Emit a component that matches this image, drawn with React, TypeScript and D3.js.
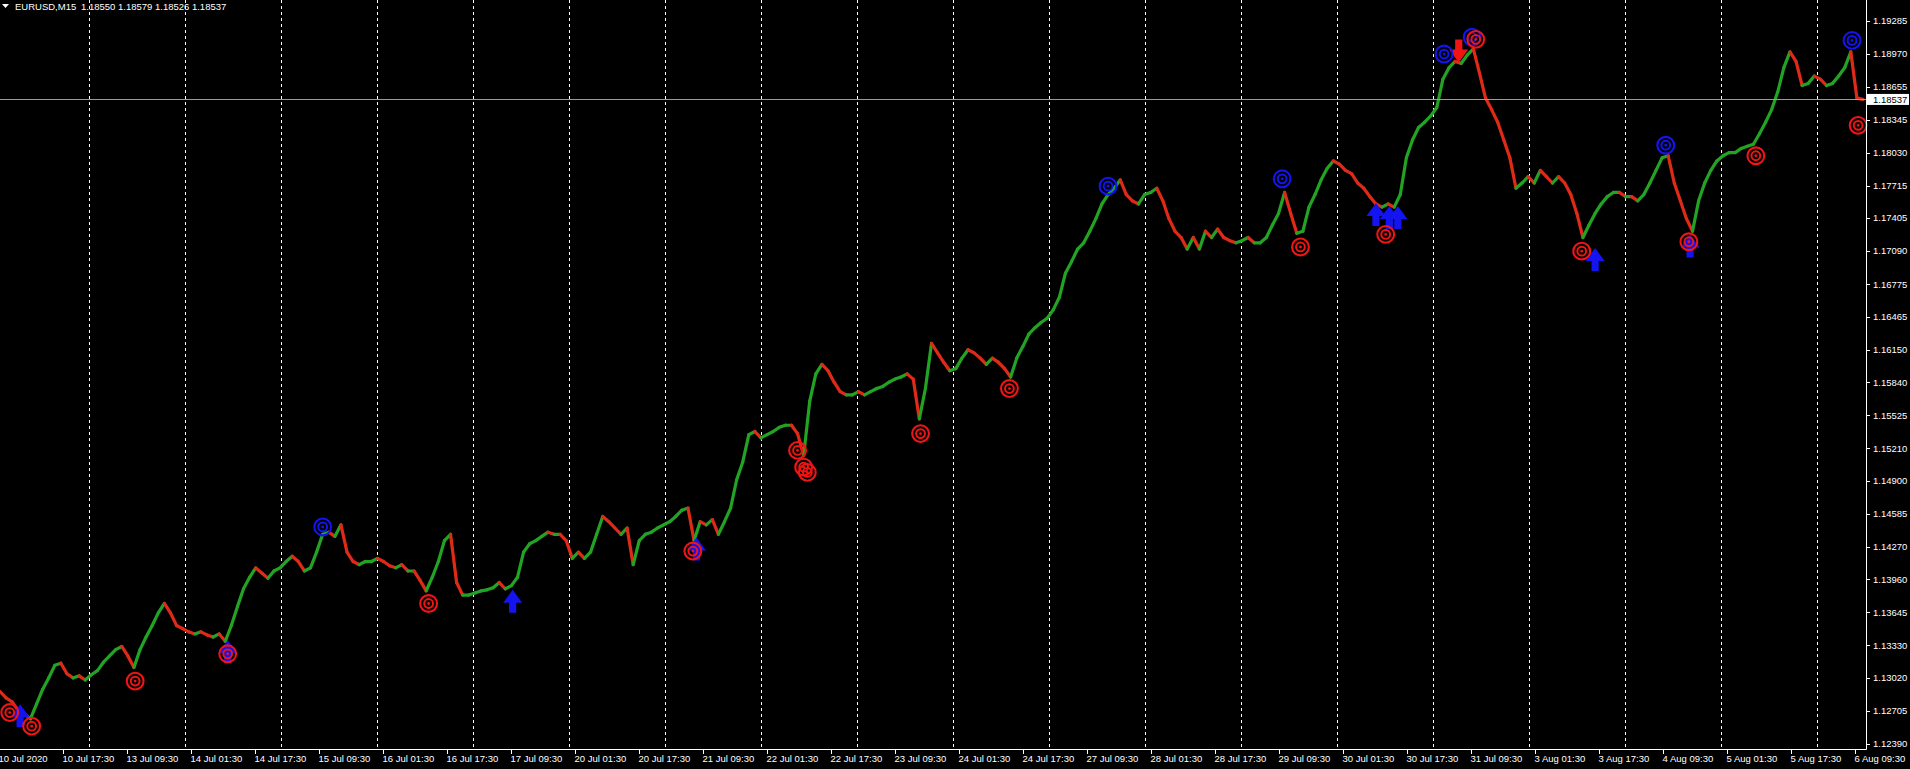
import React from 'react';
import * as d3 from 'd3';

// ---------------- data ----------------
const symbol = 'EURUSD,M15';
const ohlcHeader = ['1.18550', '1.18579', '1.18526', '1.18537'];
const currentPrice = 1.18537;

// closes sampled along the chart (about one value every 6 M15 bars)
const closes = [
  1.1289, 1.1283, 1.1279, 1.1271, 1.1268, 1.1263, 1.1277, 1.1291, 1.1302, 1.1314,
  1.1316, 1.1306, 1.1302, 1.1304, 1.1300, 1.1305, 1.1309, 1.1317, 1.1323, 1.1329,
  1.1332, 1.1323, 1.1312, 1.1329, 1.1341, 1.1352, 1.1364, 1.1373, 1.1364, 1.1352,
  1.1349, 1.1346, 1.1344, 1.1346, 1.1343, 1.1341, 1.1344, 1.1337, 1.1352, 1.1370,
  1.1387, 1.1398, 1.1407, 1.1402, 1.1397, 1.1404, 1.1407, 1.1413, 1.1418, 1.1413,
  1.1404, 1.1407, 1.1422, 1.1439, 1.1441, 1.1437, 1.1448, 1.1422, 1.1413, 1.1410,
  1.1413, 1.1413, 1.1416, 1.1413, 1.1409, 1.1407, 1.1410, 1.1404, 1.1404, 1.1395,
  1.1385, 1.1398, 1.1413, 1.1433, 1.1439, 1.1393, 1.1381, 1.1381, 1.1383, 1.1385,
  1.1386, 1.1388, 1.1393, 1.1387, 1.1390, 1.1398, 1.1422, 1.1430, 1.1433, 1.1437,
  1.1441, 1.1439, 1.1439, 1.1433, 1.1416, 1.1422, 1.1416, 1.1422, 1.1439, 1.1456,
  1.1451, 1.1445, 1.1439, 1.1445, 1.1410, 1.1433, 1.1439, 1.1441, 1.1445, 1.1448,
  1.1451, 1.1456, 1.1462, 1.1464, 1.1433, 1.1451, 1.1448, 1.1453, 1.1439, 1.1451,
  1.1464, 1.1491, 1.1508, 1.1534, 1.1537, 1.1531, 1.1534, 1.1537, 1.1541, 1.1543,
  1.1543, 1.1535, 1.1514, 1.1566, 1.1592, 1.1601, 1.1595, 1.1584, 1.1575, 1.1572,
  1.1572, 1.1575, 1.1572, 1.1575, 1.1578, 1.1580, 1.1584, 1.1587, 1.1589, 1.1592,
  1.1587, 1.1549, 1.1578, 1.1621, 1.1612, 1.1603, 1.1595, 1.1597, 1.1607, 1.1615,
  1.1612, 1.1607, 1.1601, 1.1607, 1.1603, 1.1597, 1.1589, 1.1607, 1.1618, 1.1630,
  1.1636, 1.1641, 1.1645, 1.1653, 1.1665, 1.1688, 1.1699, 1.1711, 1.1717, 1.1728,
  1.1740, 1.1754, 1.1763, 1.1769, 1.1777, 1.1763, 1.1757, 1.1754, 1.1763, 1.1765,
  1.1769, 1.1757, 1.1740, 1.1728, 1.1722, 1.1711, 1.1722, 1.1711, 1.1728, 1.1722,
  1.1730, 1.1722, 1.1719, 1.1717, 1.1719, 1.1722, 1.1717, 1.1717, 1.1722, 1.1734,
  1.1745, 1.1765, 1.1745, 1.1726, 1.1728, 1.1751, 1.1763, 1.1777, 1.1788, 1.1795,
  1.1792, 1.1786, 1.1783, 1.1774, 1.1769, 1.1761, 1.1754, 1.1751, 1.1754, 1.1751,
  1.1763, 1.1798, 1.1815, 1.1827, 1.1832, 1.1838, 1.1846, 1.1873, 1.1884, 1.1890,
  1.1888, 1.1896, 1.1902, 1.1879, 1.1855, 1.1844, 1.1832, 1.1815, 1.1798, 1.1769,
  1.1774, 1.1780, 1.1774, 1.1786, 1.1780, 1.1774, 1.1780, 1.1774, 1.1763, 1.1745,
  1.1722, 1.1734, 1.1745, 1.1754, 1.1761, 1.1765, 1.1765, 1.1761, 1.1761, 1.1757,
  1.1763, 1.1774, 1.1786, 1.1798, 1.1800, 1.1774, 1.1757, 1.1740, 1.1728, 1.1757,
  1.1774, 1.1786, 1.1795, 1.1800, 1.1803, 1.1803, 1.1807, 1.1809, 1.1811, 1.1821,
  1.1832, 1.1844, 1.1861, 1.1884, 1.1899, 1.1890, 1.1867, 1.1869, 1.1876, 1.1873,
  1.1867, 1.1869, 1.1876, 1.1884, 1.1899, 1.1855, 1.18537,
];

// markers: [sample index, price]
const redTargets: [number, number][] = [
  [1.6, 1.1269], [5.2, 1.1256], [22.2, 1.1299], [37.4, 1.1325], [70.4, 1.1373],
  [113.8, 1.1423], [131, 1.1519], [132, 1.1503], [132.6, 1.1498], [151.2, 1.1535],
  [165.8, 1.1578], [213.6, 1.1713], [227.6, 1.1725], [259.8, 1.1709], [277.4, 1.1718],
  [288.4, 1.1800], [305.2, 1.1829], [242.4, 1.1911],
];
const blueTargets: [number, number][] = [
  [53, 1.1446], [182, 1.1771], [210.6, 1.1778], [237.2, 1.1897], [241.8, 1.1913],
  [273.6, 1.1810], [304.2, 1.1910],
];
const upArrows: [number, number][] = [
  [3.3, 1.1277], [37.4, 1.1338], [84.2, 1.1386], [114.4, 1.1436], [226, 1.1755],
  [228.2, 1.1752], [229.6, 1.1752], [262, 1.1712], [277.6, 1.1725],
];
const downArrows: [number, number][] = [[239.6, 1.1889]];

const priceTicks = [
  1.19285, 1.1897, 1.18655, 1.18345, 1.1803, 1.17715, 1.17405, 1.1709, 1.16775, 1.16465,
  1.1615, 1.1584, 1.15525, 1.1521, 1.149, 1.14585, 1.1427, 1.1396, 1.13645, 1.1333,
  1.1302, 1.12705, 1.1239,
];

const timeLabels = [
  '10 Jul 2020', '10 Jul 17:30', '13 Jul 09:30', '14 Jul 01:30', '14 Jul 17:30',
  '15 Jul 09:30', '16 Jul 01:30', '16 Jul 17:30', '17 Jul 09:30', '20 Jul 01:30',
  '20 Jul 17:30', '21 Jul 09:30', '22 Jul 01:30', '22 Jul 17:30', '23 Jul 09:30',
  '24 Jul 01:30', '24 Jul 17:30', '27 Jul 09:30', '28 Jul 01:30', '28 Jul 17:30',
  '29 Jul 09:30', '30 Jul 01:30', '30 Jul 17:30', '31 Jul 09:30', '3 Aug 01:30',
  '3 Aug 17:30', '4 Aug 09:30', '5 Aug 01:30', '5 Aug 17:30', '6 Aug 09:30',
];
const barsPerLabel = 64;
// day separators (bar index of each 00:00)
const daySeparatorBars = [90, 186, 282, 378, 474, 570, 666, 762, 858, 954, 1050, 1146, 1242, 1338, 1434, 1530, 1626, 1722, 1818];

// ---------------- layout ----------------
const W = 1910;
const H = 769;
const PR = 1866; // right edge of plot
const PB = 749; // bottom edge of plot
const FONT = '"Liberation Sans", Arial, sans-serif';
const UP = '#23a323';
const DOWN = '#e02a18';
const RED = '#f01414';
const BLUE = '#1414f0';

const y = d3.scaleLinear().domain([1.1239, 1.19285]).range([744, 21]);
const xBar = d3.scaleLinear().domain([0, 1866]).range([-1, 1865]);
const xS = d3.scaleLinear().domain([0, closes.length - 1]).range([0, 1863]);

function Target({ cx, cy, color }: { cx: number; cy: number; color: string }) {
  return (
    <g transform={`translate(${cx},${cy})`}>
      <circle r={8.4} fill="none" stroke={color} strokeWidth={2.1} />
      <circle r={4.4} fill="none" stroke={color} strokeWidth={2} />
      <circle r={1.4} fill={color} />
    </g>
  );
}

const upArrowPath = 'M0,0 L9.5,13 L3.6,13 L3.6,23 L-3.6,23 L-3.6,13 L-9.5,13 Z';
const downArrowPath = 'M0,0 L9.5,-13 L3.6,-13 L3.6,-23 L-3.6,-23 L-3.6,-13 L-9.5,-13 Z';

export default function App() {
  const segs = closes.slice(1).map((c, j) => {
    const o = closes[j];
    return {
      x1: xS(j),
      y1: y(o),
      x2: xS(j + 1),
      y2: y(c),
      color: c >= o ? UP : DOWN,
    };
  });

  return (
    <svg
      width={W}
      height={H}
      style={{ position: 'absolute', left: 0, top: 0, background: '#000', display: 'block' }}
    >
      <rect x={0} y={0} width={W} height={H} fill="#000" />
      {/* day separators */}
      {daySeparatorBars.map((b) => (
        <line
          key={b}
          x1={Math.round(xBar(b)) + 0.5}
          x2={Math.round(xBar(b)) + 0.5}
          y1={0}
          y2={PB}
          stroke="#fff"
          strokeWidth={1}
          strokeDasharray="3,3"
        />
      ))}
      {/* price trace */}
      {segs.map((s, i) => (
        <line key={'s' + i} x1={s.x1} y1={s.y1} x2={s.x2} y2={s.y2} stroke={s.color} strokeWidth={3.2} strokeLinecap="round" />
      ))}
      {/* current price line */}
      <line x1={0} x2={PR} y1={Math.round(y(currentPrice)) + 0.5} y2={Math.round(y(currentPrice)) + 0.5} stroke="#9a9a9a" strokeWidth={1} />
      {/* arrows */}
      {upArrows.map(([k, p], i) => (
        <path key={'u' + i} d={upArrowPath} transform={`translate(${xS(k)},${y(p)})`} fill={BLUE} />
      ))}
      {downArrows.map(([k, p], i) => (
        <path key={'d' + i} d={downArrowPath} transform={`translate(${xS(k)},${y(p)})`} fill={RED} />
      ))}
      {/* targets */}
      {blueTargets.map(([k, p], i) => (
        <Target key={'b' + i} cx={xS(k)} cy={y(p)} color={BLUE} />
      ))}
      {redTargets.map(([k, p], i) => (
        <Target key={'r' + i} cx={xS(k)} cy={y(p)} color={RED} />
      ))}
      {/* axes frame */}
      <line x1={PR + 0.5} x2={PR + 0.5} y1={0} y2={PB + 0.5} stroke="#fff" />
      <line x1={0} x2={PR + 0.5} y1={PB + 0.5} y2={PB + 0.5} stroke="#fff" />
      {/* price axis */}
      {priceTicks.map((p) => (
        <g key={p}>
          <line x1={PR} x2={PR + 4} y1={Math.round(y(p)) + 0.5} y2={Math.round(y(p)) + 0.5} stroke="#fff" />
          <text x={PR + 7} y={y(p)} dy="0.35em" fill="#fff" fontSize={9.5} fontFamily={FONT}>
            {p.toFixed(5)}
          </text>
        </g>
      ))}
      {/* current price label */}
      <rect x={PR + 1} y={y(currentPrice) - 5.5} width={W - PR - 2} height={11} fill="#fff" />
      <text x={PR + 7} y={y(currentPrice)} dy="0.35em" fill="#000" fontSize={9.5} fontFamily={FONT}>
        {currentPrice.toFixed(5)}
      </text>
      {/* time axis */}
      {timeLabels.map((t, i) => {
        const x = Math.round(xBar(i * barsPerLabel)) + 0.5;
        return (
          <g key={t}>
            <line x1={x} x2={x} y1={PB} y2={PB + 5} stroke="#fff" />
            <text x={x - 1} y={762} fill="#fff" fontSize={9.5} fontFamily={FONT}>
              {t}
            </text>
          </g>
        );
      })}
      {/* header */}
      <path d="M2,4 L9,4 L5.5,8 Z" fill="#fff" />
      <text x={15} y={10} fill="#fff" fontSize={9.5} fontFamily={FONT}>
        {symbol}
      </text>
      <text x={81} y={10} fill="#fff" fontSize={9.5} fontFamily={FONT}>
        {ohlcHeader.join(' ')}
      </text>
    </svg>
  );
}
